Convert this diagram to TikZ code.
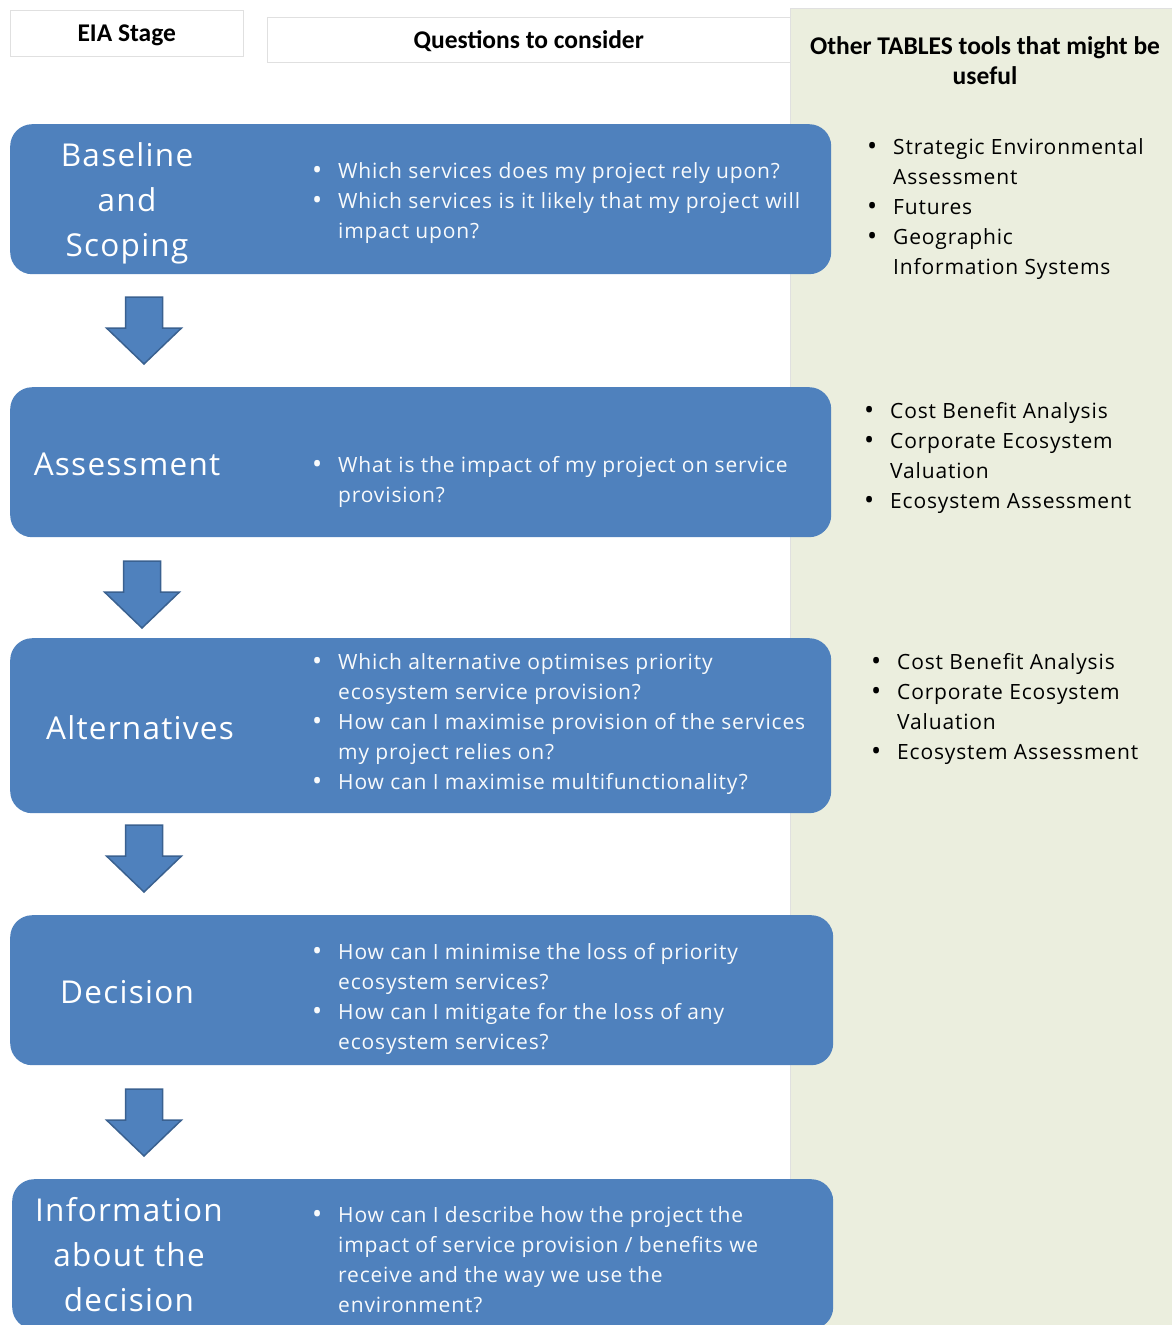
\documentclass[tikz,border=0pt]{standalone}
\usepackage{fontspec}
\setmainfont{Open Sans}
\newfontfamily\bodyfont[LetterSpace=4]{Open Sans}
\newfontfamily\headfont{Carlito}
\usetikzlibrary{positioning}

\definecolor{stageblue}{HTML}{4F81BD}
\definecolor{arrowedge}{HTML}{3A6190}
\definecolor{panelgreen}{RGB}{235,238,222}

\newcommand{\bul}{\strut\makebox[26pt][l]{\raisebox{-1.5pt}{\fontsize{27}{30}\selectfont\textbullet}}}
\newcommand{\ind}{\strut\makebox[26pt]{}}

\begin{document}
\begin{tikzpicture}[
        x=1pt, y=-1pt,
        % Styles
        panel/.style={rectangle, fill=panelgreen, draw=black!12, inner sep=0pt, anchor=north west},
        headbox/.style={rectangle, fill=white, draw=black!12, inner sep=0pt, anchor=north west},
        headlab/.style={align=center, font=\headfont\bfseries\fontsize{25.5}{30}\selectfont},
        stagebox/.style={rectangle, fill=stageblue, draw=none, rounded corners=22pt, inner sep=0pt,
                minimum width=821, anchor=north west},
        stagelab/.style={align=center, text=white, font=\bodyfont\fontsize{31.5}{45}\selectfont},
        qtext/.style={align=left, anchor=west, inner sep=0pt, text=white!96!stageblue,
                font=\bodyfont\fontsize{21}{30}\selectfont},
        toolstext/.style={align=left, anchor=west, inner sep=0pt, text=black,
                font=\bodyfont\fontsize{21}{30}\selectfont},
        blockarrow/.style={fill=stageblue, draw=arrowedge, line width=1.5pt},
    ]
        \useasboundingbox (0,0) rectangle (1172,1325);

        % === TOOLS PANEL ===
        \node[panel, minimum width=382, minimum height=1320] (tools) at (790,8) {};
        \node[headlab] (toolshead) at (985,61) {Other TABLES tools that might be\\useful};

        % === HEADERS ===
        \node[headbox, minimum width=233, minimum height=46] (stagehead) at (10,10) {};
        \node[headlab] at ([yshift=-2]stagehead.center) {EIA Stage};
        \node[headbox, minimum width=523, minimum height=45] (qhead) at (267,17) {};
        \node[headlab] at ([yshift=-1]qhead.center) {Questions to consider};

        % === STAGES ===
        \node[stagebox, minimum height=150] (baseline) at (10,124) {};
        \node[stagebox, minimum height=150] (assess) at (10,387) {};
        \node[stagebox, minimum height=175] (altern) at (10,638) {};
        \node[stagebox, minimum width=823, minimum height=150] (decision) at (10,915) {};
        \node[stagebox, minimum height=150] (inform) at (12,1179) {};

        \node[stagelab] (baselinelab) at (127,202) {\strut Baseline\\\strut and\\\strut Scoping};
        \node[stagelab] (assesslab) at (127,466) {\strut Assessment};
        \node[stagelab] (alternlab) at (140,730) {\strut Alternatives};
        \node[stagelab] (decisionlab) at (127,994) {\strut Decision};
        \node[stagelab] (informlab) at (129,1257) {\strut Information\\\strut about the\\\strut decision};

        % Stage arrows
        \coordinate (arr1) at (144,297);
        \coordinate (arr2) at (142,561);
        \coordinate (arr3) at (144,825);
        \coordinate (arr4) at (144,1089);
        \foreach \a in {arr1,arr2,arr3,arr4}
            \draw[blockarrow] (\a) ++(-18.5,0) -- ++(0,31) -- ++(-19,0) -- ++(37.5,36)
                -- ++(37.5,-36) -- ++(-19,0) -- ++(0,-31) -- cycle;

        % === QUESTIONS ===
        \node[qtext] (q1) at (312,202) {\bul Which services does my project rely upon?\\
            \bul Which services is it likely that my project will\\\ind impact upon?};
        \node[qtext] (q2) at (312,481) {\bul What is the impact of my project on service\\\ind provision?};
        \node[qtext] (q3) at (312,723) {\bul Which alternative optimises priority\\
            \ind ecosystem service provision?\\
            \bul How can I maximise provision of the services\\\ind my project relies on?\\
            \bul How can I maximise multifunctionality?};
        \node[qtext] (q4) at (312,998) {\bul How can I minimise the loss of priority\\
            \ind ecosystem services?\\
            \bul How can I mitigate for the loss of any\\\ind ecosystem services?};
        \node[qtext] (q5) at (312,1261) {\bul How can I describe how the project the\\
            \ind impact of service provision / benefits we\\
            \ind receive and the way we use the\\\ind environment?};

        % === TOOLS ===
        \node[toolstext] (t1) at (867,208) {\bul Strategic Environmental\\\ind Assessment\\
            \bul Futures\\\bul Geographic\\\ind Information Systems};
        \node[toolstext] (t2) at (864,457) {\bul Cost Benefit Analysis\\\bul Corporate Ecosystem\\
            \ind Valuation\\\bul Ecosystem Assessment};
        \node[toolstext] (t3) at (871,708) {\bul Cost Benefit Analysis\\\bul Corporate Ecosystem\\
            \ind Valuation\\\bul Ecosystem Assessment};

    \end{tikzpicture}
\end{document}
